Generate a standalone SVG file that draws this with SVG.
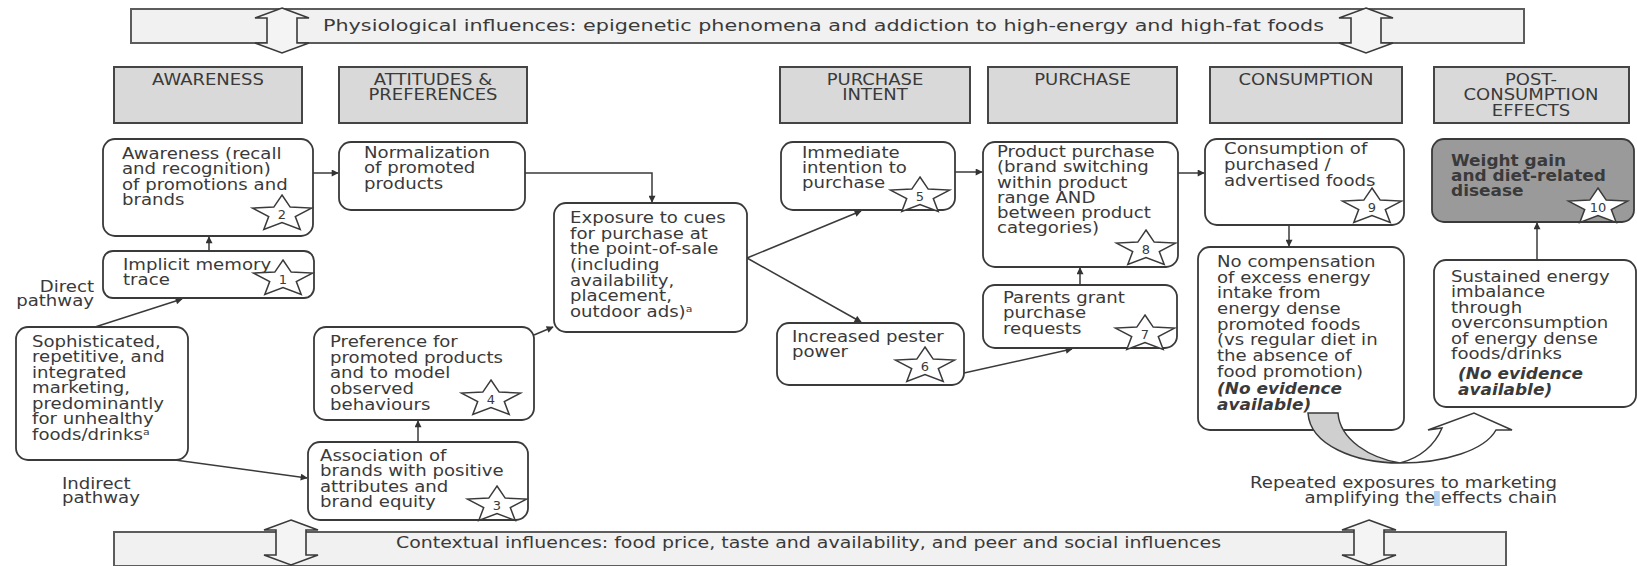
<svg xmlns="http://www.w3.org/2000/svg" width="1637" height="566" viewBox="0 0 1637 566">
<defs>
<style>
.t{font-family:"DejaVu Sans",sans-serif;font-size:15px;fill:#3a3a3a}
.b{font-weight:bold}
.bi{font-weight:bold;font-style:italic}
.hd{font-family:"DejaVu Sans",sans-serif;font-size:15px;fill:#3a3a3a;text-anchor:middle}
.node{fill:#fff;stroke:#3a3a3a;stroke-width:1.8}
.dark{fill:#9a9a9a;stroke:#3a3a3a;stroke-width:1.8}
.hdr{fill:#d9d9d9;stroke:#454545;stroke-width:2}
.ban{fill:#f1f1f1;stroke:#5c5c5c;stroke-width:2}
.dbl{fill:#f4f4f4;stroke:#3a3a3a;stroke-width:1.6}
.star{fill:#fff;stroke:#3a3a3a;stroke-width:1.5}
.sn{font-family:"DejaVu Sans",sans-serif;font-size:13px;fill:#3a3a3a;text-anchor:middle}
.c{fill:none;stroke:#3a3a3a;stroke-width:1.5}
.sup{font-size:9px}
</style>
<marker id="ah" viewBox="0 0 10 10" refX="9" refY="5" markerWidth="8" markerHeight="7" markerUnits="userSpaceOnUse" orient="auto"><path d="M0,0 L10,5 L0,10 Z" fill="#333"/></marker>
<polygon id="star" points="0,-19 8.2,-6.9 29.5,-5.9 13.3,2.6 18.2,15.4 0,8.6 -18.2,15.4 -13.3,2.6 -29.5,-5.9 -8.2,-6.9"/>
<path id="dbl" d="M0,0 L27,10 L15,10 L15,35 L27,35 L0,45 L-27,35 L-15,35 L-15,10 L-27,10 Z"/>
</defs>

<g id="top-banner">
<rect class="ban" x="131" y="9" width="1393" height="34"/>
<text class="t" x="323" y="31" font-size="15.5" textLength="1001" lengthAdjust="spacingAndGlyphs">Physiological influences: epigenetic phenomena and addiction to high-energy and high-fat foods</text>
<use href="#dbl" class="dbl" x="282" y="8"/>
<use href="#dbl" class="dbl" x="1366" y="8"/>
</g>

<g id="bottom-banner">
<rect class="ban" x="114" y="532" width="1392" height="34"/>
<text class="t" x="396" y="548" font-size="15.5" textLength="825" lengthAdjust="spacingAndGlyphs">Contextual influences: food price, taste and availability, and peer and social influences</text>
<use href="#dbl" class="dbl" x="291" y="520"/>
<use href="#dbl" class="dbl" x="1369" y="520"/>
</g>

<g id="hdr-awareness"><rect class="hdr" x="114" y="67" width="188" height="56"/>
<text class="hd" transform="translate(208 0) scale(1.2 1)"><tspan x="0" y="85">AWARENESS</tspan></text></g>
<g id="hdr-attitudes"><rect class="hdr" x="339" y="67" width="188" height="56"/>
<text class="hd" transform="translate(433 0) scale(1.2 1)"><tspan x="0" y="85">ATTITUDES &amp;</tspan><tspan x="0" y="100.5">PREFERENCES</tspan></text></g>
<g id="hdr-intent"><rect class="hdr" x="780" y="67" width="190" height="56"/>
<text class="hd" transform="translate(875 0) scale(1.2 1)"><tspan x="0" y="85">PURCHASE</tspan><tspan x="0" y="100.5">INTENT</tspan></text></g>
<g id="hdr-purchase"><rect class="hdr" x="988" y="67" width="189" height="56"/>
<text class="hd" transform="translate(1082.5 0) scale(1.2 1)"><tspan x="0" y="85">PURCHASE</tspan></text></g>
<g id="hdr-consumption"><rect class="hdr" x="1210" y="67" width="192" height="56"/>
<text class="hd" transform="translate(1306 0) scale(1.2 1)"><tspan x="0" y="85">CONSUMPTION</tspan></text></g>
<g id="hdr-post"><rect class="hdr" x="1434" y="67" width="195" height="56"/>
<text class="hd" transform="translate(1531 0) scale(1.2 1)"><tspan x="0" y="85">POST-</tspan><tspan x="0" y="100.5">CONSUMPTION</tspan><tspan x="0" y="116">EFFECTS</tspan></text></g>

<g id="connectors">
<line class="c" x1="209" y1="251" x2="209" y2="237" marker-end="url(#ah)"/>
<line class="c" x1="95" y1="327" x2="182" y2="299" marker-end="url(#ah)"/>
<line class="c" x1="313" y1="173" x2="338" y2="173" marker-end="url(#ah)"/>
<path class="c" d="M525,173 H652 V202" marker-end="url(#ah)"/>
<line class="c" x1="175" y1="460" x2="307" y2="478" marker-end="url(#ah)"/>
<line class="c" x1="418" y1="442" x2="418" y2="421" marker-end="url(#ah)"/>
<line class="c" x1="534" y1="335" x2="553" y2="327" marker-end="url(#ah)"/>
<line class="c" x1="747" y1="258" x2="861" y2="211" marker-end="url(#ah)"/>
<line class="c" x1="747" y1="258" x2="861" y2="322" marker-end="url(#ah)"/>
<line class="c" x1="955" y1="172" x2="982" y2="172" marker-end="url(#ah)"/>
<line class="c" x1="964" y1="373" x2="1072" y2="349" marker-end="url(#ah)"/>
<line class="c" x1="1080" y1="285" x2="1080" y2="268" marker-end="url(#ah)"/>
<line class="c" x1="1178" y1="173" x2="1204" y2="173" marker-end="url(#ah)"/>
<line class="c" x1="1289" y1="225" x2="1289" y2="246" marker-end="url(#ah)"/>
<line class="c" x1="1537" y1="260" x2="1537" y2="223" marker-end="url(#ah)"/>
</g>

<g id="n-awareness"><rect class="node" x="103" y="139" width="210" height="97" rx="12"/>
<text class="t" transform="translate(122 0) scale(1.21 1)"><tspan x="0" y="159">Awareness (recall</tspan><tspan x="0" y="174.5">and recognition)</tspan><tspan x="0" y="190">of promotions and</tspan><tspan x="0" y="205.5">brands</tspan></text>
<use href="#star" class="star" x="282" y="214"/><text class="sn" x="282" y="219">2</text></g>

<g id="n-implicit"><rect class="node" x="103" y="251" width="211" height="47" rx="10"/>
<text class="t" transform="translate(123 0) scale(1.21 1)"><tspan x="0" y="270">Implicit memory</tspan><tspan x="0" y="285.5">trace</tspan></text>
<use href="#star" class="star" x="283" y="279"/><text class="sn" x="283" y="284">1</text></g>

<g id="n-normalization"><rect class="node" x="339" y="142" width="186" height="68" rx="12"/>
<text class="t" transform="translate(364 0) scale(1.21 1)"><tspan x="0" y="158">Normalization</tspan><tspan x="0" y="173.5">of promoted</tspan><tspan x="0" y="189">products</tspan></text></g>

<g id="n-exposure"><rect class="node" x="554" y="203" width="193" height="129" rx="12"/>
<text class="t" transform="translate(570 0) scale(1.21 1)"><tspan x="0" y="223">Exposure to cues</tspan><tspan x="0" y="238.7">for purchase at</tspan><tspan x="0" y="254.3">the point-of-sale</tspan><tspan x="0" y="270">(including</tspan><tspan x="0" y="285.6">availability,</tspan><tspan x="0" y="301.3">placement,</tspan><tspan x="0" y="317">outdoor ads)<tspan class="sup" dy="-5">a</tspan></tspan></text></g>

<g id="n-marketing"><rect class="node" x="16" y="327" width="172" height="133" rx="12"/>
<text class="t" transform="translate(32 0) scale(1.21 1)"><tspan x="0" y="347">Sophisticated,</tspan><tspan x="0" y="362.5">repetitive, and</tspan><tspan x="0" y="378">integrated</tspan><tspan x="0" y="393.5">marketing,</tspan><tspan x="0" y="409">predominantly</tspan><tspan x="0" y="424.5">for unhealthy</tspan><tspan x="0" y="440">foods/drinks<tspan class="sup" dy="-5">a</tspan></tspan></text></g>

<g id="lbl-direct"><text class="t" text-anchor="end" transform="translate(94 0) scale(1.21 1)"><tspan x="0" y="292">Direct</tspan><tspan x="0" y="306.5">pathway</tspan></text></g>
<g id="lbl-indirect"><text class="t" transform="translate(62 0) scale(1.21 1)"><tspan x="0" y="489">Indirect</tspan><tspan x="0" y="503.5">pathway</tspan></text></g>

<g id="n-preference"><rect class="node" x="314" y="327" width="220" height="93" rx="12"/>
<text class="t" transform="translate(330 0) scale(1.21 1)"><tspan x="0" y="347">Preference for</tspan><tspan x="0" y="362.7">promoted products</tspan><tspan x="0" y="378.3">and to model</tspan><tspan x="0" y="394">observed</tspan><tspan x="0" y="409.6">behaviours</tspan></text>
<use href="#star" class="star" x="491" y="399"/><text class="sn" x="491" y="404">4</text></g>

<g id="n-association"><rect class="node" x="308" y="442" width="220" height="78" rx="12"/>
<text class="t" transform="translate(320 0) scale(1.21 1)"><tspan x="0" y="461">Association of</tspan><tspan x="0" y="476.5">brands with positive</tspan><tspan x="0" y="492">attributes and</tspan><tspan x="0" y="507.5">brand equity</tspan></text>
<use href="#star" class="star" x="497" y="505"/><text class="sn" x="497" y="510">3</text></g>

<g id="n-intention"><rect class="node" x="781" y="142" width="174" height="68" rx="12"/>
<text class="t" transform="translate(802 0) scale(1.21 1)"><tspan x="0" y="158">Immediate</tspan><tspan x="0" y="173">intention to</tspan><tspan x="0" y="188">purchase</tspan></text>
<use href="#star" class="star" x="920" y="196"/><text class="sn" x="920" y="201">5</text></g>

<g id="n-pester"><rect class="node" x="777" y="323" width="187" height="62" rx="12"/>
<text class="t" transform="translate(792 0) scale(1.21 1)"><tspan x="0" y="342">Increased pester</tspan><tspan x="0" y="357.5">power</tspan></text>
<use href="#star" class="star" x="925" y="366"/><text class="sn" x="925" y="371">6</text></g>

<g id="n-product"><rect class="node" x="983" y="142" width="195" height="125" rx="12"/>
<text class="t" transform="translate(997 0) scale(1.21 1)"><tspan x="0" y="157">Product purchase</tspan><tspan x="0" y="172.3">(brand switching</tspan><tspan x="0" y="187.6">within product</tspan><tspan x="0" y="202.9">range AND</tspan><tspan x="0" y="218.2">between product</tspan><tspan x="0" y="233.5">categories)</tspan></text>
<use href="#star" class="star" x="1146" y="249"/><text class="sn" x="1146" y="254">8</text></g>

<g id="n-parents"><rect class="node" x="983" y="285" width="194" height="63" rx="12"/>
<text class="t" transform="translate(1003 0) scale(1.21 1)"><tspan x="0" y="303">Parents grant</tspan><tspan x="0" y="318.5">purchase</tspan><tspan x="0" y="334">requests</tspan></text>
<use href="#star" class="star" x="1145" y="334"/><text class="sn" x="1145" y="339">7</text></g>

<g id="n-consumption"><rect class="node" x="1205" y="139" width="199" height="86" rx="12"/>
<text class="t" transform="translate(1224 0) scale(1.21 1)"><tspan x="0" y="154">Consumption of</tspan><tspan x="0" y="170">purchased /</tspan><tspan x="0" y="186">advertised foods</tspan></text>
<use href="#star" class="star" x="1372" y="207"/><text class="sn" x="1372" y="212">9</text></g>

<g id="n-nocompensation"><rect class="node" x="1198" y="247" width="206" height="183" rx="12"/>
<text class="t" transform="translate(1217 0) scale(1.21 1)"><tspan x="0" y="267">No compensation</tspan><tspan x="0" y="282.7">of excess energy</tspan><tspan x="0" y="298.4">intake from</tspan><tspan x="0" y="314.1">energy dense</tspan><tspan x="0" y="329.8">promoted foods</tspan><tspan x="0" y="345.5">(vs regular diet in</tspan><tspan x="0" y="361.2">the absence of</tspan><tspan x="0" y="376.9">food promotion)</tspan></text>
<text class="t bi" transform="translate(1217 0) scale(1.13 1)"><tspan x="0" y="394">(No evidence</tspan><tspan x="0" y="410">available)</tspan></text></g>

<g id="n-weight"><rect class="dark" x="1432" y="139" width="202" height="83" rx="12"/>
<text class="t b" fill="#222" transform="translate(1451 0) scale(1.13 1)"><tspan x="0" y="166">Weight gain</tspan><tspan x="0" y="181">and diet-related</tspan><tspan x="0" y="196">disease</tspan></text>
<use href="#star" class="star" x="1598" y="207"/><text class="sn" x="1598" y="212">10</text></g>

<g id="n-sustained"><rect class="node" x="1434" y="260" width="202" height="147" rx="12"/>
<text class="t" transform="translate(1451 0) scale(1.21 1)"><tspan x="0" y="282">Sustained energy</tspan><tspan x="0" y="297.5">imbalance</tspan><tspan x="0" y="313">through</tspan><tspan x="0" y="328.5">overconsumption</tspan><tspan x="0" y="344">of energy dense</tspan><tspan x="0" y="359.5">foods/drinks</tspan></text>
<text class="t bi" transform="translate(1458 0) scale(1.13 1)"><tspan x="0" y="379">(No evidence</tspan><tspan x="0" y="395">available)</tspan></text></g>

<g id="repeat-arrow">
<path d="M1308,413 L1338,413 C1340,440 1370,458 1400,463 C1355,463 1310,445 1308,413 Z" fill="#cfcfcf" stroke="#3a3a3a" stroke-width="1.5"/>
<path d="M1400,463 C1445,463 1485,450 1496,430 L1512,430 L1474,413 L1428,430 L1442,428 C1435,445 1420,458 1400,463 Z" fill="#fff" stroke="#3a3a3a" stroke-width="1.5"/>
</g>

<g id="lbl-repeated">
<rect x="1434" y="491" width="5.8" height="15" fill="#b4d2ef"/>
<text class="t" text-anchor="end" transform="translate(1557 0) scale(1.21 1)"><tspan x="0" y="488">Repeated exposures to marketing</tspan><tspan x="0" y="503">amplifying the effects chain</tspan></text>
</g>
</svg>
